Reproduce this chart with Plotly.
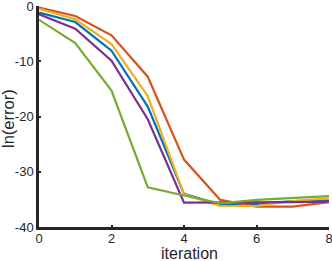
import plotly.graph_objects as go

iterations = [0, 1, 2, 3, 4, 5, 6, 7, 8]
blue = [-1.2, -2.9, -8.1, -18.2, -34.0, -36.0, -35.8, -35.3, -35.2]
orange = [-0.3, -1.8, -5.3, -12.8, -27.8, -35.1, -36.3, -36.3, -35.5]
yellow = [-0.5, -2.4, -6.9, -16.3, -34.1, -36.2, -36.2, -35.3, -34.8]
purple = [-1.5, -4.1, -9.9, -20.5, -35.6, -35.6, -35.5, -35.5, -35.4]
green = [-2.5, -6.7, -15.3, -32.8, -34.3, -35.7, -35.1, -34.8, -34.4]

series = [
    (blue, "#0072BD"),
    (orange, "#D95319"),
    (yellow, "#EDB120"),
    (purple, "#7E2F8E"),
    (green, "#77AC30"),
]

x_ticks = [0, 2, 4, 6, 8]
y_ticks = [0, -10, -20, -30, -40]

L, R, T, B = 39, 3, 6, 34
W, H = 332, 261
PW, PH = W - L - R, H - T - B

fig = go.Figure()
for vals, col in series:
    fig.add_trace(go.Scatter(x=iterations, y=vals, mode="lines",
                             line=dict(color=col, width=2.2), showlegend=False))

FONT = "Liberation Sans, Arial"
axis_common = dict(
    showgrid=False, zeroline=False, showline=True, linecolor="#262626", linewidth=2.5,
    ticks="inside", ticklen=2, tickwidth=2, tickcolor="#262626",
    tickfont=dict(family=FONT, size=13, color="#262626"),
    automargin=False, ticklabeloverflow="allow",
)

fig.update_layout(
    width=W, height=H,
    margin=dict(l=L, r=R, t=T, b=B),
    paper_bgcolor="white", plot_bgcolor="white",
    xaxis=dict(range=[0, 8], tickvals=x_ticks, ticktext=[str(v) for v in x_ticks],
               ticklabelstandoff=-2, **axis_common),
    yaxis=dict(range=[-40, 0], tickvals=y_ticks, ticktext=[str(v) for v in y_ticks],
               **axis_common),
    annotations=[
        dict(text="iteration", xref="paper", yref="paper",
             x=(189 - L) / PW, y=(H - B - 253) / PH, xanchor="center", yanchor="middle",
             showarrow=False, font=dict(family=FONT, size=16, color="#262626")),
        dict(text="ln(error)", xref="paper", yref="paper", textangle=-90,
             x=(8 - L) / PW, y=(H - B - 119) / PH, xanchor="center", yanchor="middle",
             showarrow=False, font=dict(family=FONT, size=16.5, color="#262626")),
    ],
)

fig.write_html("out.html", config={"displayModeBar": False},
               post_script="document.body.style.margin='0';document.body.style.overflow='hidden';")
